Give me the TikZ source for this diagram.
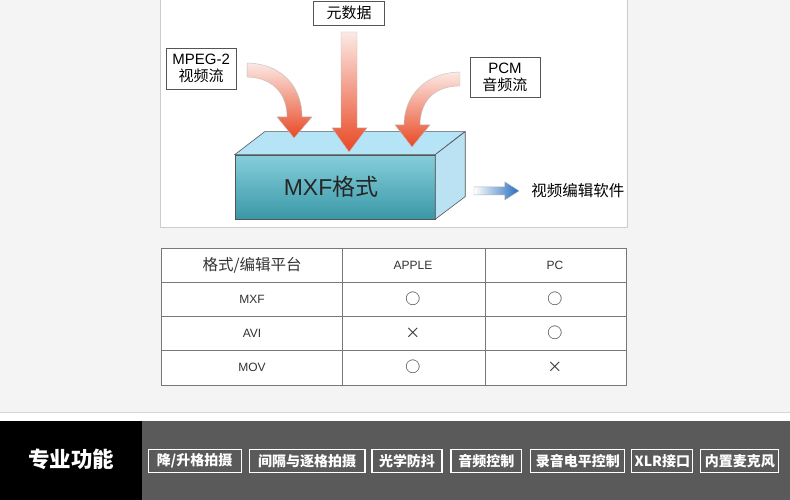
\documentclass[tikz,border=0pt]{standalone}
\usepackage{fontspec}
\setmainfont{Liberation Sans}
\newfontfamily\cjk{Noto Sans CJK SC}
\usetikzlibrary{positioning}
\definecolor{PageGray}{RGB}{244,244,244}
\definecolor{RuleGray}{RGB}{214,214,214}
\definecolor{PanelLine}{RGB}{204,204,204}
\definecolor{BoxLine}{RGB}{85,85,85}
\definecolor{ArrowRed}{RGB}{232,72,36}
\definecolor{MxfTop}{RGB}{180,228,246}
\definecolor{MxfSide}{RGB}{186,226,243}
\definecolor{MxfLight}{RGB}{134,206,220}
\definecolor{MxfDark}{RGB}{58,152,166}
\definecolor{FlowBlue}{RGB}{38,110,190}
\definecolor{TagDark}{RGB}{90,90,90}
\definecolor{TableRule}{RGB}{120,120,120}

\begin{document}
\begin{tikzpicture}[x=1pt, y=-1pt,
    labelbox/.style={draw=BoxLine, fill=white, line width=0.6pt, inner sep=0pt, align=center},
    front/.style={draw=BoxLine, line width=0.6pt, top color=MxfLight, bottom color=MxfDark, inner sep=0pt},
    flow/.style={draw=gray!50, line width=0.4pt, top color=ArrowRed!12, middle color=ArrowRed!65, bottom color=ArrowRed},
    cell/.style={text=black!80, font=\fontsize{12}{14}\selectfont},
    tag/.style={draw=white, line width=1.1pt, text=white, inner sep=0pt, minimum height=23pt,
        font=\cjk\bfseries\fontsize{14}{16}\selectfont}]
    % Page background and bottom band
    \fill[PageGray] (0,0) rectangle (790,412);
    \draw[RuleGray] (0,412.5) -- (790,412.5);
    \fill[white] (0,413) rectangle (790,421);
    \fill[TagDark] (0,421) rectangle (790,500);
    \fill[black] (0,421) rectangle (142,500);
    \useasboundingbox (0,0) rectangle (790,500);
    % White panel
    \fill[white] (160,0) rectangle (627,227);
    \draw[PanelLine] (160,0) |- (627,227) -- (627,0);
    % Input labels
    \node[labelbox, minimum width=71pt, minimum height=24pt] (meta) at (349,13)
        {\cjk\fontsize{15}{16}\selectfont 元数据};
    \node[labelbox, minimum width=70pt, minimum height=41pt, font=\fontsize{15}{17}\selectfont] (mpeg) at (201,68.5)
        {MPEG-2\\{\cjk\fontsize{15}{17}\selectfont 视频流}};
    \node[labelbox, minimum width=70pt, minimum height=40pt, font=\fontsize{15}{17}\selectfont] (pcm) at (505,77)
        {PCM\\{\cjk\fontsize{15}{17}\selectfont 音频流}};
    % MXF block
    \node[front, minimum width=200pt, minimum height=64pt, text=black!85, font=\fontsize{23}{26}\selectfont] (mxf) at (335,187)
        {\hspace{-8pt}MXF{\cjk 格式}};
    \filldraw[fill=MxfTop, draw=BoxLine, line width=0.6pt] (mxf.north west) -- ++(30,-23) -- ++(200,0) -- (mxf.north east) -- cycle;
    \filldraw[fill=MxfSide, draw=BoxLine, line width=0.6pt] (mxf.north east) -- ++(30,-23) -- ++(0,65) -- (mxf.south east) -- cycle;
    % Big arrows into the block
    \path[flow] (247,63) .. controls (285,64) and (302,90) .. (302,117) -- (312,117) -- (294,138) -- (277,117)
        -- (287,117) .. controls (287,96) and (275,78) .. (247,77) -- cycle;
    \path[flow] (341,32) -- (357,32) -- (357,128) -- (367,128) -- (349,152) -- (332,128) -- (341,128) -- cycle;
    \path[flow] (460,72) .. controls (421,73) and (404,100) .. (404,125) -- (395,125) -- (412,147) -- (430,125)
        -- (420,125) .. controls (420,104) and (432,86) .. (460,86) -- cycle;
    % Output
    \path[draw=gray!60, line width=0.4pt, left color=white, right color=FlowBlue]
        (474,187) -- (505,187) -- (505,182) -- (519,191) -- (505,200) -- (505,195) -- (474,195) -- cycle;
    \node[anchor=west, font=\cjk\fontsize{15.5}{17}\selectfont] (soft) at (528,191) {视频编辑软件};
    % Table
    \fill[white] (161,248) rectangle (626,385);
    \draw[TableRule] (161,248) rectangle (626,385);
    \foreach \y in {282,316,350}
        \draw[TableRule] (161,\y) -- (626,\y);
    \foreach \x in {342,485}
        \draw[TableRule] (\x,248) -- (\x,385);
    \node[cell, font=\cjk\fontsize{15.5}{17}\selectfont] (head1) at (252,265) {格式/编辑平台};
    \node[cell] (head2) at (413,266) {APPLE};
    \node[cell] (head3) at (555,266) {PC};
    \foreach \fmt/\ap/\pc [count=\i] in {MXF/○/○, AVI/×/○, MOV/○/×} {
        \node[cell] (fmt\i) at (252,{266+34*\i}) {\fmt};
        \node[cell, font=\cjk\fontsize{15}{16}\selectfont] (apple\i) at (413,{265+34*\i}) {\ap};
        \node[cell, font=\cjk\fontsize{15}{16}\selectfont] (pc\i) at (555,{265+34*\i}) {\pc};
    }
    % Feature band
    \node[text=white, font=\cjk\bfseries\fontsize{21.5}{24}\selectfont] (feat) at (71,460) {专业功能};
    \foreach \xa/\xb/\txt [count=\i] in {148/241/{降/升格拍摄}, 249/365/间隔与逐格拍摄, 372/442/光学防抖,
        451/522/音频控制, 531/625/录音电平控制, 632/693/XLR接口, 701/779/内置麦克风}
        \node[tag, minimum width={\xb-\xa}] (tag\i) at ({(\xa+\xb)/2},461.5) {\txt};
\end{tikzpicture}
\end{document}
